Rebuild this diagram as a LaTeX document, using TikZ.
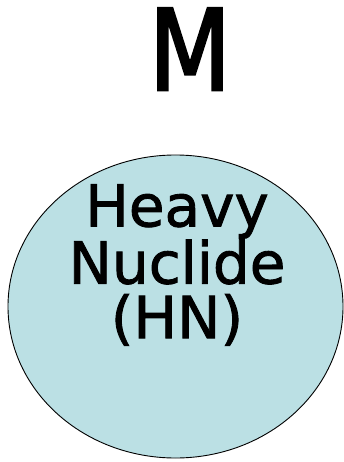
\documentclass[tikz,border=0pt]{standalone}
\usepackage{fontspec}
\setmainfont{DejaVu Sans}
\newfontfamily\mheavyfont[FakeBold=2.5]{DejaVu Sans}
\newfontfamily\nucbodyfont[FakeBold=1.5]{DejaVu Sans}
\definecolor{nucfill}{RGB}{187,224,228}
\begin{document}
\begin{tikzpicture}[x=1pt,y=1pt,
  biglabel/.style={font=\mheavyfont\fontsize{112}{112}\selectfont, inner sep=0pt, xscale=0.85},
  nuctext/.style={font=\nucbodyfont\fontsize{58}{54.5}\selectfont, align=center, inner sep=0pt}]
\useasboundingbox (0,0) rectangle (344,-462);
\fill[nucfill, draw=black, line width=0.9pt] (175.5,-306.5) ellipse [x radius=167.5, y radius=151.5];
\node[biglabel, anchor=base] (m) at (190,-90) {M};
\node[nuctext, anchor=north] (hn) at (177,-184) {Heavy\\Nuclide\\(HN)};
\end{tikzpicture}
\end{document}
